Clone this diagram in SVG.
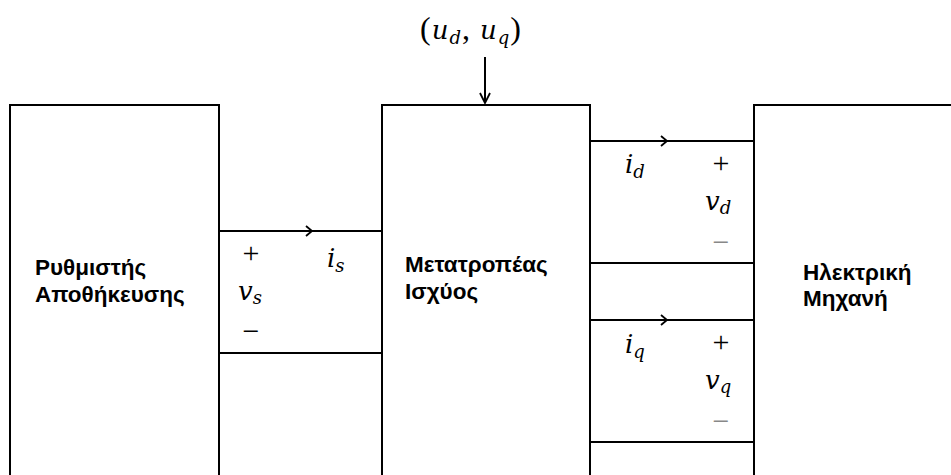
<svg xmlns="http://www.w3.org/2000/svg" width="951" height="475" viewBox="0 0 951 475">
<style>
.box{fill:#fff;stroke:#000;stroke-width:2}
.w{stroke:#000;stroke-width:2;fill:none}
.lbl{font-family:"Liberation Sans",Arial,sans-serif;font-weight:bold;font-size:22.5px;fill:#000}
.m{font-family:"DejaVu Serif",serif;font-style:italic;font-size:26px;fill:#000}
.sub{font-size:18px}
.op{font-family:"Liberation Serif",serif;font-size:30px;fill:#000;text-anchor:middle}
.gr{fill:#888}
</style>
<defs>
<marker id="chev" markerWidth="10" markerHeight="12" refX="7" refY="6" orient="auto" markerUnits="userSpaceOnUse">
<path d="M1,1 L7,6 L1,11" fill="none" stroke="#000" stroke-width="1.8"/>
</marker>
<marker id="ah" markerWidth="14" markerHeight="12" refX="12" refY="6" orient="auto" markerUnits="userSpaceOnUse">
<path d="M2,1 L12,6 L2,11" fill="none" stroke="#000" stroke-width="1.8"/>
</marker>
</defs>
<g id="storage">
<rect class="box" x="10" y="105" width="209" height="380"/>
<text class="lbl" x="35" y="275">Ρυθμιστής</text>
<text class="lbl" x="35" y="302">Αποθήκευσης</text>
</g>
<g id="converter">
<rect class="box" x="382" y="105" width="208" height="380"/>
<text class="lbl" x="405" y="272">Μετατροπέας</text>
<text class="lbl" x="405" y="299">Ισχύος</text>
</g>
<g id="machine">
<rect class="box" x="754" y="105" width="220" height="380"/>
<text class="lbl" x="803" y="280">Ηλεκτρική</text>
<text class="lbl" x="803" y="306">Μηχανή</text>
</g>
<g id="connectors">
<path class="w" d="M485,57 V103" marker-end="url(#ah)"/>
<path class="w" d="M219,231 H312" marker-end="url(#chev)"/>
<path class="w" d="M310,231 H382"/>
<path class="w" d="M219,353 H382"/>
<path class="w" d="M590,141 H667" marker-end="url(#chev)"/>
<path class="w" d="M665,141 H754"/>
<path class="w" d="M590,263 H754"/>
<path class="w" d="M590,320 H667" marker-end="url(#chev)"/>
<path class="w" d="M665,320 H754"/>
<path class="w" d="M590,442 H754"/>
</g>
<g id="labels">
<text x="420" y="39" font-family="Liberation Serif,serif" font-size="32" letter-spacing="1">(<tspan class="m">u</tspan><tspan class="m sub" dy="5">d</tspan><tspan dy="-5">, </tspan><tspan class="m">u</tspan><tspan class="m sub" dy="5">q</tspan><tspan dy="-5">)</tspan></text>
<text class="op" x="251" y="263">+</text>
<text x="238" y="300"><tspan class="m">v</tspan><tspan class="m sub" dy="4">s</tspan></text>
<text class="op" x="251" y="341">−</text>
<text x="327" y="267"><tspan class="m">i</tspan><tspan class="m sub" dy="5">s</tspan></text>
<text x="625" y="173"><tspan class="m">i</tspan><tspan class="m sub" dy="5">d</tspan></text>
<text class="op" x="721" y="173">+</text>
<text x="705" y="210"><tspan class="m">v</tspan><tspan class="m sub" dy="4">d</tspan></text>
<text class="op gr" x="721" y="252">−</text>
<text x="625" y="353"><tspan class="m">i</tspan><tspan class="m sub" dy="5">q</tspan></text>
<text class="op" x="721" y="352">+</text>
<text x="705" y="389"><tspan class="m">v</tspan><tspan class="m sub" dy="4">q</tspan></text>
<text class="op gr" x="721" y="431">−</text>
</g>
</svg>
